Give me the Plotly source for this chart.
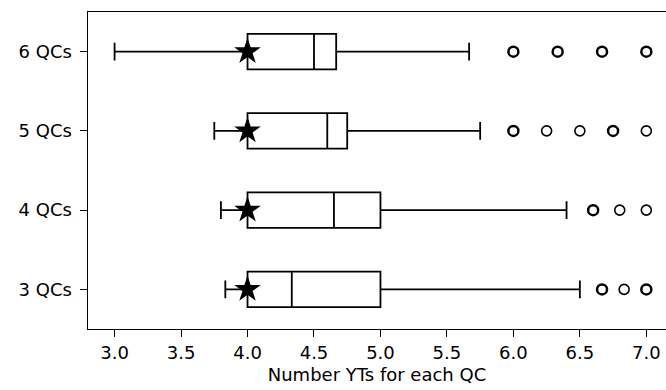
import plotly.graph_objects as go

categories = ["3 QCs", "4 QCs", "5 QCs", "6 QCs"]
lower_whisker = [3.833, 3.8, 3.75, 3.0]
q1 = [4.0, 4.0, 4.0, 4.0]
median = [4.333, 4.65, 4.6, 4.5]
q3 = [5.0, 5.0, 4.75, 4.667]
upper_whisker = [6.5, 6.4, 5.75, 5.667]
star_values = [4.0, 4.0, 4.0, 4.0]

# outliers (value, count of coinciding points)
outliers = {
    "3 QCs": [(6.667, 2), (6.833, 1), (7.0, 2)],
    "4 QCs": [(6.6, 2), (6.8, 1), (7.0, 1)],
    "5 QCs": [(6.0, 2), (6.25, 1), (6.5, 1), (6.75, 2), (7.0, 1)],
    "6 QCs": [(6.0, 2), (6.333, 2), (6.667, 2), (7.0, 2)],
}
x_ticks = [3.0, 3.5, 4.0, 4.5, 5.0, 5.5, 6.0, 6.5, 7.0]

FONT = "DejaVu Sans"
FS = 18
fig = go.Figure()

fig.add_trace(go.Box(
    y=categories,
    q1=q1, median=median, q3=q3,
    lowerfence=lower_whisker, upperfence=upper_whisker,
    orientation="h",
    boxpoints=False,
    width=0.45,
    whiskerwidth=0.5,
    line=dict(color="black", width=1.8),
    fillcolor="rgba(255,255,255,0)",
    showlegend=False,
    hoverinfo="skip",
))

ox, oy, ow = [], [], []
for cat in categories:
    for v, c in outliers[cat]:
        ox.append(v)
        oy.append(cat)
        ow.append(2.5 if c > 1 else 1.6)

fig.add_trace(go.Scatter(
    x=ox, y=oy, mode="markers",
    marker=dict(symbol="circle-open", size=10, color="black",
                line=dict(color="black", width=ow)),
    showlegend=False, hoverinfo="skip",
))

fig.add_trace(go.Scatter(
    x=star_values, y=categories, mode="markers",
    marker=dict(symbol="star", size=20, color="black",
                line=dict(width=0)),
    showlegend=False, hoverinfo="skip",
))

fig.update_layout(
    width=666, height=390,
    margin=dict(l=88, r=0, t=12, b=61),
    plot_bgcolor="white", paper_bgcolor="white",
    font=dict(family=FONT, size=FS, color="black"),
    xaxis=dict(
        range=[2.8, 7.148],
        tickvals=x_ticks,
        ticktext=[f"{t:.1f}" for t in x_ticks],
        ticks="outside", ticklen=6.3, tickwidth=1.44, tickcolor="black",
        showline=True, linecolor="black", linewidth=1.44,
        mirror=True, showgrid=False, zeroline=False,
        tickfont=dict(family=FONT, size=FS),
        ticklabelstandoff=1,
        title=dict(text="Number YTs for each QC", standoff=6,
                   font=dict(family=FONT, size=FS)),
    ),
    yaxis=dict(
        type="category",
        categoryorder="array", categoryarray=categories,
        range=[-0.5, 3.5],
        ticks="outside", ticklen=6.3, tickwidth=1.44, tickcolor="black",
        showline=True, linecolor="black", linewidth=1.44,
        mirror=False, showgrid=False, zeroline=False,
        tickfont=dict(family=FONT, size=FS),
        ticklabelstandoff=5,
    ),
)

fig.write_html("out.html")
